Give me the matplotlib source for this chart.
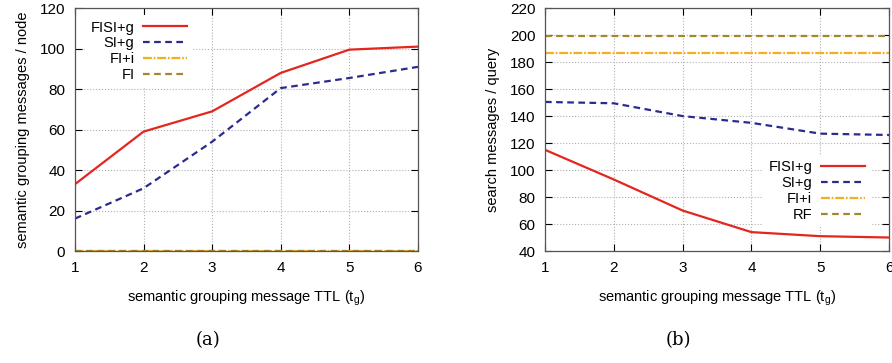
import matplotlib
matplotlib.use('Agg')
import matplotlib.pyplot as plt

plt.rcParams['font.family'] = ['Liberation Sans', 'DejaVu Sans']

ttl = [1, 2, 3, 4, 5, 6]

# (a) semantic grouping messages / node
grp_fisi_g = [33, 59, 69, 88, 99.5, 101]
grp_si_g = [16, 31, 54, 80.5, 85.5, 91]
grp_fi_i = [0, 0, 0, 0, 0, 0]
grp_fi = [0, 0, 0, 0, 0, 0]

# (b) search messages / query
srch_fisi_g = [115, 93, 70, 54, 51, 50]
srch_si_g = [150.5, 149.5, 140, 135, 127, 126]
srch_fi_i = [187, 187, 187, 187, 187, 187]
srch_rf = [199, 199, 199, 199, 199, 199]

red = '#e3261e'
blue = '#2b2b8f'
orange = '#f4ae22'
olive = '#a3872c'
dash = (0, (3, 2))
dotdash = (0, (4, 0.8, 0.8, 0.8))

fig = plt.figure(figsize=(8.92, 3.63), dpi=100)
ax1 = fig.add_axes([0.084, 0.3085, 0.3845, 0.669])
ax2 = fig.add_axes([0.611, 0.3085, 0.3857, 0.669])


def style_axes(ax):
    ax.set_xlim(1, 6)
    ax.set_xticks(ttl)
    ax.grid(True, linestyle=':', color='#b0b0b0', linewidth=0.8)
    ax.tick_params(direction='in', top=True, right=True, labelsize=11,
                   length=5, pad=7)
    for s in ax.spines.values():
        s.set_color('#555555')
        s.set_linewidth(0.9)
    ax.set_xlabel(r'semantic grouping message TTL (t$_{\mathregular{g}}$)', fontsize=10.5,
                  labelpad=10)


def add_legend(ax, **kw):
    leg = ax.legend(markerfirst=False, frameon=True, fontsize=10.5,
                    handlelength=3.0, labelspacing=0.12, handletextpad=0.6,
                    fancybox=False, **kw)
    leg.get_frame().set_edgecolor('none')
    leg.get_frame().set_facecolor('white')
    leg.get_frame().set_alpha(1)


ax1.plot(ttl, grp_fisi_g, color=red, lw=1.6, label='FISI+g')
ax1.plot(ttl, grp_si_g, color=blue, lw=1.6, ls=dash, label='SI+g')
ax1.plot(ttl, grp_fi_i, color=orange, lw=1.6, ls=dotdash, label='FI+i')
ax1.plot(ttl, grp_fi, color=olive, lw=1.6, ls=dash, label='FI')
style_axes(ax1)
ax1.set_ylim(0, 120)
ax1.set_yticks(range(0, 121, 20))
ax1.set_ylabel('semantic grouping messages / node', fontsize=10.5, labelpad=7)
add_legend(ax1, loc='upper left', bbox_to_anchor=(0.02, 0.985), borderaxespad=0.2)

ax2.plot(ttl, srch_fisi_g, color=red, lw=1.6, label='FISI+g')
ax2.plot(ttl, srch_si_g, color=blue, lw=1.6, ls=dash, label='SI+g')
ax2.plot(ttl, srch_fi_i, color=orange, lw=1.6, ls=dotdash, label='FI+i')
ax2.plot(ttl, srch_rf, color=olive, lw=1.6, ls=dash, label='RF')
style_axes(ax2)
ax2.set_ylim(40, 220)
ax2.set_yticks(range(40, 221, 20))
ax2.set_ylabel('search messages / query', fontsize=10.5, labelpad=7)
add_legend(ax2, loc='lower right', bbox_to_anchor=(0.955, 0.085), borderaxespad=0.2)

fig.text(0.233, 0.05, '(a)', family='DejaVu Serif', fontsize=13, ha='center')
fig.text(0.761, 0.05, '(b)', family='DejaVu Serif', fontsize=13, ha='center')

fig.savefig('out.png', dpi=100)
